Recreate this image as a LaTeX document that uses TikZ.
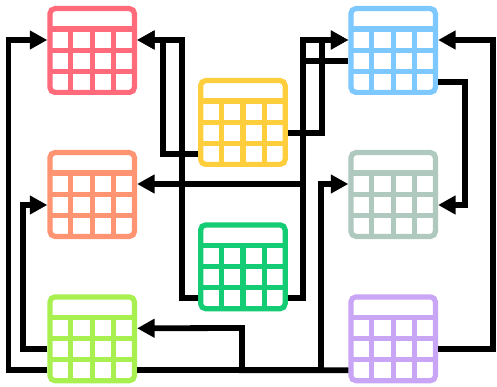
\documentclass[tikz,border=0pt]{standalone}
\usetikzlibrary{arrows.meta}
\definecolor{cred}{HTML}{FF6B7A}
\definecolor{corange}{HTML}{FF9473}
\definecolor{cblue}{HTML}{7CC8FF}
\definecolor{cyellow}{HTML}{FFCE3C}
\definecolor{csage}{HTML}{B0C9BF}
\definecolor{cgreen}{HTML}{14CC73}
\definecolor{clime}{HTML}{A8F04F}
\definecolor{cpurple}{HTML}{C9A6F5}
\tikzset{
  tablebox/.style={draw=#1,fill=white,line width=5.2pt,rounded corners=5pt,
    minimum width=84.5pt,minimum height=83.8pt,inner sep=0pt,shape=rectangle},
  tablegrid/.style={draw=#1,line width=5.2pt},
  wire/.style={draw=black,line width=5.8pt,line join=miter},
  arrowwire/.style={wire,-{Triangle[length=17.5pt,width=18pt]}}
}
\newcommand{\dbtable}[4]{%
  \begin{scope}[shift={(#3,#4)}]
    \node[tablebox=#2] (#1) at (0,0) {};
    \draw[tablegrid=#2] (-42.2,-21.5) -- (42.2,-21.5)
      (-42.2,0) -- (42.2,0) (-42.2,21) -- (42.2,21)
      (-21.4,-21.5) -- (-21.4,42) (0,-21.5) -- (0,42) (21.3,-21.5) -- (21.3,42);
    \coordinate (#1-l1) at (-44.9,-10.5);
    \coordinate (#1-l2) at (-44.9,10.5);
    \coordinate (#1-l3) at (-44.9,31.5);
    \coordinate (#1-r1) at (44.9,-10.5);
    \coordinate (#1-r2) at (44.9,10.5);
    \coordinate (#1-r3) at (44.9,31.5);
  \end{scope}}
\begin{document}
\begin{tikzpicture}[x=1pt,y=-1pt]
\useasboundingbox[fill=white] (0,0) rectangle (497,387);
\dbtable{red}{cred}{92.2}{50.5}
\dbtable{blue}{cblue}{393.2}{50.5}
\dbtable{yellow}{cyellow}{242.9}{122.5}
\dbtable{orange}{corange}{92.2}{194.5}
\dbtable{sage}{csage}{393.2}{194.5}
\dbtable{green}{cgreen}{242.9}{266.8}
\dbtable{lime}{clime}{92.2}{338.8}
\dbtable{purple}{cpurple}{393.2}{338.8}
% connectors
\draw[arrowwire] (lime-l3) -| (8.5,40) -- (red-l1);
\draw[arrowwire] (lime-l2) -| (22.7,205) -- (orange-l2);
\draw[arrowwire] (yellow-l3) -| (162.7,40) -- (red-r1);
\draw[arrowwire] (green-l3) -| (182,40) -- (red-r1);
\draw[arrowwire] (yellow-r2) -| (322.3,40) -- (blue-l1);
\draw[arrowwire] (green-r3) -| (303,40) -- (blue-l1);
\draw[arrowwire] (blue-l2) -| (303,184) -- (orange-r1);
\draw[arrowwire] (blue-r3) -| (465,205) -- (sage-r2);
\draw[arrowwire] (purple-r2) -| (493,40) -- (blue-r1);
\draw[arrowwire] (lime-r3) -| (321.3,184) -- (sage-l1);
\draw[arrowwire] (purple-l3) -| (242,328) -- (lime-r1);
\end{tikzpicture}
\end{document}
